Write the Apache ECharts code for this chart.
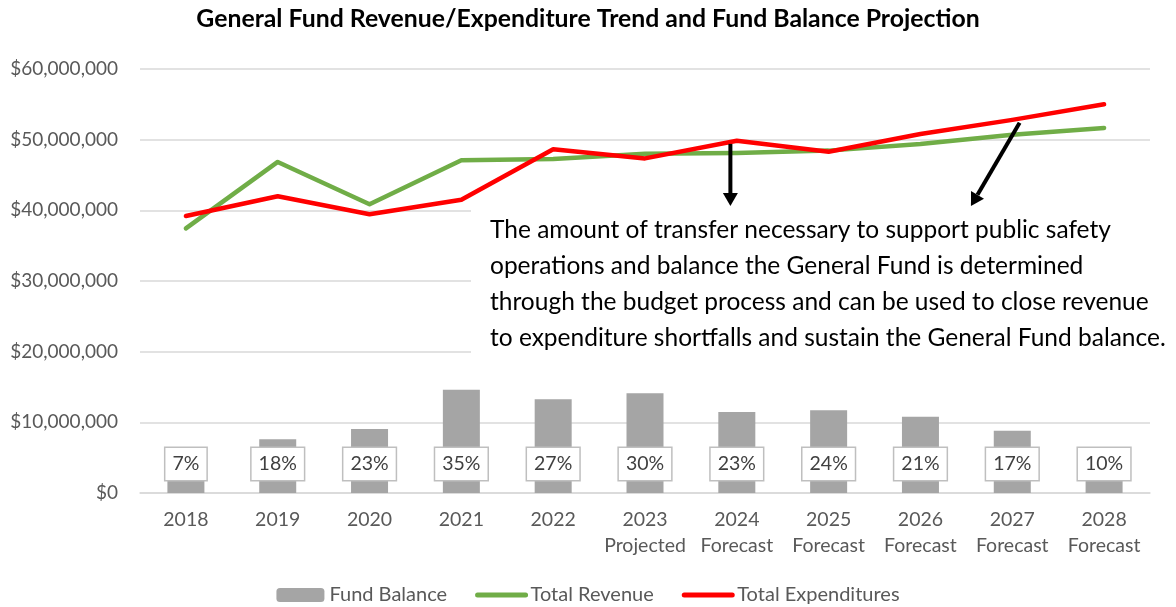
<!DOCTYPE html>
<html>
<head>
<meta charset="utf-8">
<style>
  html, body { margin: 0; padding: 0; background: #fff; }
  #chart { width: 1176px; height: 607px; }
</style>
<script src="https://cdn.jsdelivr.net/npm/echarts@6/dist/echarts.min.js"></script>
</head>
<body>
<div id="chart"></div>
<script>
// categories
var years = ['2018', '2019', '2020', '2021', '2022', '2023\nProjected', '2024\nForecast',
    '2025\nForecast', '2026\nForecast', '2027\nForecast', '2028\nForecast'];
// fund balance (bars) and its share of expenditures
var fundBalance = [2750000, 7600000, 9050000, 14600000, 13250000, 14100000, 11450000, 11700000, 10800000, 8800000, 5500000];
var balancePct = [7, 18, 23, 35, 27, 30, 23, 24, 21, 17, 10];
// lines
var revenue = [37450000, 46850000, 40850000, 47100000, 47250000, 48000000, 48100000, 48450000, 49400000, 50700000, 51650000];
var expenditures = [39200000, 42000000, 39450000, 41500000, 48650000, 47350000, 49850000, 48300000, 50800000, 52800000, 55000000];

var noteText = 'The amount of transfer necessary to support public safety\n' +
    'operations and balance the General Fund is determined\n' +
    'through the budget process and can be used to close revenue\n' +
    'to expenditure shortfalls and sustain the General Fund balance.';

var chart = echarts.init(document.getElementById('chart'));
var font = 'Lato, "Liberation Sans", sans-serif';

// legend entry for a line: thick rounded stroke, no marker
function lineLegend(name) {
    return {
        name: name,
        itemStyle: { color: 'rgba(0,0,0,0)', borderWidth: 0 },
        lineStyle: { width: 5, cap: 'round' }
    };
}

var option = {
    animation: false,
    title: {
        text: 'General Fund Revenue/Expenditure Trend and Fund Balance Projection',
        left: 'center',
        top: 2,
        textStyle: { fontFamily: font, fontSize: 24.8, fontWeight: 'bold', color: '#000' }
    },
    legend: {
        top: 580,
        itemGap: 28,
        itemWidth: 48,
        itemHeight: 14,
        textStyle: { fontFamily: font, fontSize: 20, color: '#595959' },
        data: ['Fund Balance', lineLegend('Total Revenue'), lineLegend('Total Expenditures')]
    },
    grid: { left: 140, right: 26, top: 69, bottom: 114 },
    xAxis: {
        type: 'category',
        data: years,
        axisLine: { lineStyle: { color: '#d9d9d9', width: 1.5 } },
        axisTick: { show: false },
        axisLabel: { interval: 0, fontFamily: font, fontSize: 19.5, color: '#595959', lineHeight: 26, margin: 14 }
    },
    yAxis: {
        type: 'value',
        min: 0,
        max: 60000000,
        interval: 10000000,
        axisLine: { show: false },
        axisTick: { show: false },
        splitLine: { lineStyle: { color: '#d9d9d9', width: 1.5 } },
        axisLabel: {
            fontFamily: font, fontSize: 19, color: '#595959', margin: 22,
            formatter: function (v) { return '$' + v.toLocaleString('en-US'); }
        }
    },
    series: [
        {
            name: 'Fund Balance',
            type: 'bar',
            data: fundBalance,
            barWidth: 37,
            itemStyle: { color: '#a5a5a5' },
            label: {
                show: true,
                position: 'insideBottom',
                distance: 13,
                formatter: function (p) { return balancePct[p.dataIndex] + '%'; },
                fontFamily: font, fontSize: 19.5, color: '#404040',
                backgroundColor: '#fff',
                borderColor: '#bfbfbf',
                borderWidth: 1.5,
                padding: [6, 7, 6, 7]
            }
        },
        {
            name: 'Total Revenue',
            type: 'line',
            data: revenue,
            symbol: 'none',
            lineStyle: { color: '#70ad47', width: 4.5, join: 'round', cap: 'round' },
            itemStyle: { color: '#70ad47' }
        },
        {
            name: 'Total Expenditures',
            type: 'line',
            data: expenditures,
            symbol: 'none',
            lineStyle: { color: '#ff0000', width: 4.5, join: 'round', cap: 'round' },
            itemStyle: { color: '#ff0000' }
        }
    ]
};
chart.setOption(option);

// annotation: note box and arrows placed from axis coordinates
function px(idx, val) {
    var i = Math.floor(idx), f = idx - i;
    var a = chart.convertToPixel({ xAxisIndex: 0, yAxisIndex: 0 }, [i, val]);
    if (f === 0) return a;
    var b = chart.convertToPixel({ xAxisIndex: 0, yAxisIndex: 0 }, [i + 1, val]);
    return [a[0] + f * (b[0] - a[0]), a[1]];
}

function arrow(from, to) {
    var dx = to[0] - from[0], dy = to[1] - from[1];
    var len = Math.sqrt(dx * dx + dy * dy);
    var ux = dx / len, uy = dy / len;
    var head = 13, half = 7.5;
    var bx = to[0] - ux * head, by = to[1] - uy * head;
    return [
        {
            type: 'line', z: 20,
            shape: { x1: from[0], y1: from[1], x2: bx, y2: by },
            style: { stroke: '#000', lineWidth: 4 }
        },
        {
            type: 'polygon', z: 20,
            shape: { points: [[to[0], to[1]], [bx - uy * half, by + ux * half], [bx + uy * half, by - ux * half]] },
            style: { fill: '#000' }
        }
    ];
}

var a1 = arrow(px(5.93, 49400000), px(5.93, 40600000));
var a2 = arrow(px(9.08, 52400000), px(8.55, 40600000));
var boxTop = px(0, 40400000)[1];

chart.setOption({
    graphic: [
        {
            type: 'rect', z: 10,
            shape: { x: 471, y: boxTop, width: 705, height: 153 },
            style: { fill: '#fff' }
        },
        {
            type: 'text', z: 11,
            x: 490, y: boxTop + 4,
            style: {
                text: noteText,
                fontFamily: font, fontSize: 24.5, fill: '#000',
                lineHeight: 36.3
            }
        }
    ].concat(a1, a2)
});
</script>
</body>
</html>
